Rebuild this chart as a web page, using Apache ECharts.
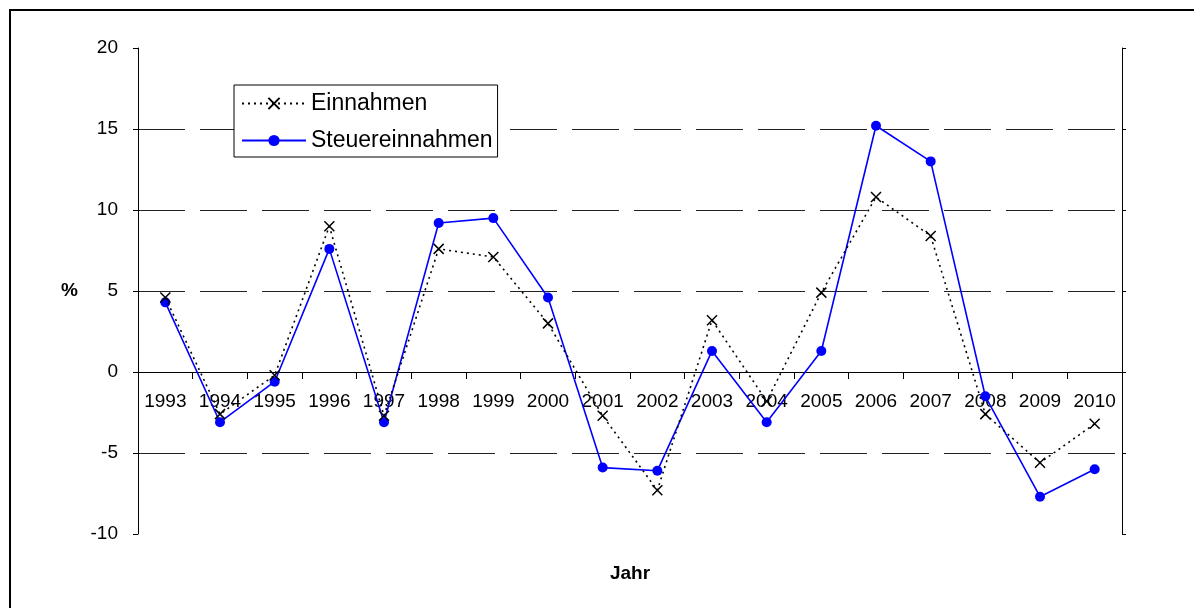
<!DOCTYPE html>
<html>
<head>
<meta charset="utf-8">
<script src="https://cdn.jsdelivr.net/npm/echarts@6/dist/echarts.min.js"></script>
<style>
html,body{margin:0;padding:0;background:#fff;}
#frame{position:absolute;left:9px;top:9px;width:1200px;height:620px;border-left:2px solid #000;border-top:2px solid #000;}
#chart{position:absolute;left:0;top:0;width:1194px;height:608px;}
</style>
</head>
<body>
<div id="frame"></div>
<div id="chart"></div>
<script>
const years = ['1993','1994','1995','1996','1997','1998','1999','2000','2001','2002','2003','2004','2005','2006','2007','2008','2009','2010'];
const einnahmen = [4.6, -2.6, -0.2, 9.0, -2.7, 7.6, 7.1, 3.0, -2.7, -7.3, 3.2, -1.8, 4.9, 10.8, 8.4, -2.6, -5.6, -3.2];
const steuereinnahmen = [4.3, -3.1, -0.6, 7.6, -3.1, 9.2, 9.5, 4.6, -5.9, -6.1, 1.3, -3.1, 1.3, 15.2, 13.0, -1.5, -7.7, -6.0];
const yMin = -10, yMax = 20, yStep = 5;

const gridTop = 48, gridBottom = 74, H = 608;
const plotH = H - gridTop - gridBottom;
// place the category axis on the zero line
const zeroOffset = -((0 - yMin) / (yMax - yMin)) * plotH;

const font = 'Liberation Sans, Arial, sans-serif';
const chart = echarts.init(document.getElementById('chart'), null, {renderer: 'canvas'});
chart.setOption({
  animation: false,
  backgroundColor: 'transparent',
  grid: {left: 138, right: 72, top: gridTop, bottom: gridBottom, containLabel: false, outerBoundsMode: 'none'},
  legend: {
    orient: 'vertical', left: 234, top: 85,
    backgroundColor: '#fff', borderColor: '#000', borderWidth: 1, borderRadius: 0,
    padding: [7, 5, 5, 7], itemWidth: 64, itemHeight: 14, itemGap: 14,
    textStyle: {fontFamily: font, fontSize: 23, color: '#000'},
    data: ['Einnahmen', 'Steuereinnahmen']
  },
  xAxis: {
    type: 'category', data: years, boundaryGap: true, position: 'bottom', offset: zeroOffset,
    name: 'Jahr', nameLocation: 'middle', nameGap: 192,
    nameTextStyle: {fontFamily: font, fontSize: 19, fontWeight: 'bold', color: '#000'},
    axisLine: {onZero: false, lineStyle: {color: '#000', width: 1}},
    axisTick: {show: true, alignWithLabel: false, interval: 0, length: 7, lineStyle: {color: '#000'}},
    axisLabel: {interval: 0, margin: 20, fontFamily: font, fontSize: 19, color: '#000'},
    splitLine: {show: false}
  },
  yAxis: [{
    type: 'value', min: yMin, max: yMax, interval: yStep,
    name: '%', nameLocation: 'middle', nameGap: 60, nameRotate: 0,
    nameTextStyle: {fontFamily: font, fontSize: 19, fontWeight: 'bold', color: '#000'},
    axisLine: {show: true, lineStyle: {color: '#000', width: 1}},
    axisTick: {show: true, length: 5, lineStyle: {color: '#000'}},
    axisLabel: {margin: 20, fontFamily: font, fontSize: 19, color: '#000'},
    splitLine: {show: true, showMinLine: false, showMaxLine: false, lineStyle: {color: '#222', width: 1, type: [47, 15]}}
  }, {
    type: 'value', min: yMin, max: yMax, interval: yStep, position: 'right',
    axisLine: {show: true, lineStyle: {color: '#000', width: 1}},
    axisTick: {show: true, length: 4, lineStyle: {color: '#000'}},
    axisLabel: {show: false},
    splitLine: {show: false}
  }],
  series: [{
    name: 'Einnahmen', type: 'line', data: einnahmen, yAxisIndex: 0,
    symbol: 'path://M0,0 L10,10 M10,0 L0,10', symbolSize: 10,
    itemStyle: {color: 'none', borderColor: '#000', borderWidth: 1.5},
    lineStyle: {color: '#000', width: 1.6, type: [2, 4]},
    z: 3
  }, {
    name: 'Steuereinnahmen', type: 'line', data: steuereinnahmen, yAxisIndex: 0,
    symbol: 'circle', symbolSize: 10,
    itemStyle: {color: '#0000ff', borderColor: '#0000ff', borderWidth: 0},
    lineStyle: {color: '#0000ff', width: 1.6, type: 'solid'},
    z: 2
  }]
});
</script>
</body>
</html>
